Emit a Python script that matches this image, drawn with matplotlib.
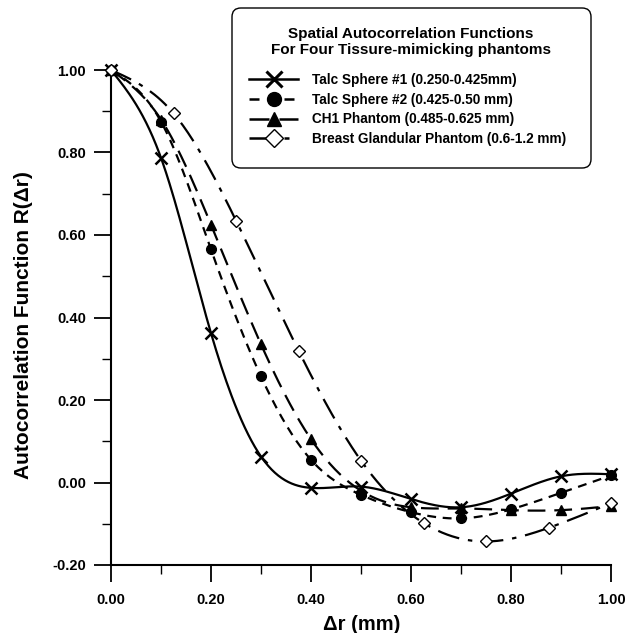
import numpy as np
import matplotlib
matplotlib.use("Agg")
import matplotlib.pyplot as plt
from matplotlib.patches import FancyBboxPatch
from matplotlib.ticker import MultipleLocator, FormatStrFormatter

plt.rcParams["font.family"] = ["Liberation Sans", "DejaVu Sans"]
plt.rcParams["font.weight"] = "bold"

# data
r_10 = [0.0, 0.1, 0.2, 0.3, 0.4, 0.5, 0.6, 0.7, 0.8, 0.9, 1.0]
talc1 = [1.0, 0.787, 0.362, 0.063, -0.013, -0.010, -0.040, -0.060, -0.027, 0.015, 0.020]
talc2 = [1.0, 0.875, 0.565, 0.257, 0.055, -0.030, -0.072, -0.087, -0.065, -0.025, 0.017]
ch1 = [1.0, 0.880, 0.625, 0.335, 0.105, -0.020, -0.060, -0.063, -0.067, -0.067, -0.057]
r_8 = [0.0, 0.125, 0.25, 0.375, 0.5, 0.625, 0.75, 0.875, 1.0]
breast = [1.0, 0.895, 0.635, 0.320, 0.053, -0.098, -0.143, -0.110, -0.050]

labels = ["Talc Sphere #1 (0.250-0.425mm)",
          "Talc Sphere #2 (0.425-0.50 mm)",
          "CH1 Phantom (0.485-0.625 mm)",
          "Breast Glandular Phantom (0.6-1.2 mm)"]
title = "Spatial Autocorrelation Functions\nFor Four Tissure-mimicking phantoms"


def spline(x, y, n=300):
    # natural cubic spline, only used to draw a smooth curve through the points
    x = np.asarray(x, float)
    y = np.asarray(y, float)
    k = len(x)
    h = np.diff(x)
    A = np.zeros((k, k))
    b = np.zeros(k)
    A[0, 0] = A[-1, -1] = 1
    for i in range(1, k - 1):
        A[i, i - 1] = h[i - 1]
        A[i, i] = 2 * (h[i - 1] + h[i])
        A[i, i + 1] = h[i]
        b[i] = 3 * ((y[i + 1] - y[i]) / h[i] - (y[i] - y[i - 1]) / h[i - 1])
    c = np.linalg.solve(A, b)
    xs = np.linspace(x[0], x[-1], n)
    idx = np.clip(np.searchsorted(x, xs) - 1, 0, k - 2)
    dx = xs - x[idx]
    bb = (y[idx + 1] - y[idx]) / h[idx] - h[idx] * (2 * c[idx] + c[idx + 1]) / 3
    d = (c[idx + 1] - c[idx]) / (3 * h[idx])
    return xs, y[idx] + bb * dx + c[idx] * dx ** 2 + d * dx ** 3


W, H = 632, 633
fig = plt.figure(figsize=(W / 100, H / 100), dpi=100)
ax = fig.add_axes([111 / W, 1 - 565 / H, 500 / W, 495 / H])

series = [
    (r_10, talc1, "-", "x", "black", 8),
    (r_10, talc2, (0, (4, 3)), "o", "black", 7),
    (r_10, ch1, (0, (8, 4)), "^", "black", 7),
    (r_8, breast, (0, (10, 4, 2, 4)), "D", "white", 6),
]

handles = []
for (x, y, ls, mk, fc, ms), lab in zip(series, labels):
    xs, ys = spline(x, y)
    ax.plot(xs, ys, color="black", lw=1.6, linestyle=ls, clip_on=False)
    ax.plot(x, y, linestyle="none", marker=mk, ms=ms, mfc=fc, mec="black",
            mew=1.8 if mk == "x" else 1.0, clip_on=False, zorder=3)
    h, = ax.plot([], [], color="black", lw=1.8, linestyle=ls, marker=mk, ms=ms + 3,
                 mfc=fc, mec="black", mew=2.2 if mk == "x" else 1.0)
    handles.append(h)

ax.set_xlim(0, 1.0)
ax.set_ylim(-0.2, 1.0)
ax.xaxis.set_major_locator(MultipleLocator(0.2))
ax.xaxis.set_minor_locator(MultipleLocator(0.1))
ax.yaxis.set_major_locator(MultipleLocator(0.2))
ax.yaxis.set_minor_locator(MultipleLocator(0.1))
ax.xaxis.set_major_formatter(FormatStrFormatter("%.2f"))
ax.yaxis.set_major_formatter(FormatStrFormatter("%.2f"))
ax.tick_params(which="major", direction="out", length=12, width=1.3, labelsize=10.5)
ax.tick_params(axis="x", which="major", pad=8)
ax.tick_params(axis="y", which="major", pad=6)
ax.tick_params(which="minor", direction="out", length=6.5, width=1.0)
for t in ax.get_xticklabels() + ax.get_yticklabels():
    t.set_fontweight("bold")
for s in ["top", "right"]:
    ax.spines[s].set_visible(False)
for s in ["left", "bottom"]:
    ax.spines[s].set_linewidth(1.5)

fig.text(362 / W, 1 - 624 / H, "\u0394r (mm)", fontsize=14.5, fontweight="bold",
         ha="center", va="center")
fig.text(24 / W, 1 - 325 / H, "Autocorrelation Function R(\u0394r)", fontsize=15,
         fontweight="bold", rotation=90, ha="center", va="center")

# legend box, title and entries
box = FancyBboxPatch((232 / W, 1 - 168 / H), 359 / W, 160 / H,
                     boxstyle="round,pad=0,rounding_size=0.014",
                     transform=fig.transFigure, facecolor="white",
                     edgecolor="black", lw=1.0, zorder=5)
fig.patches.append(box)
fig.text(411 / W, 1 - 42 / H, title, fontsize=11, fontweight="bold",
         ha="center", va="center", multialignment="center", linespacing=1.2, zorder=6)
leg = fig.legend(handles, labels, loc="upper left",
                 bbox_to_anchor=(249 / W, 1 - 73 / H),
                 prop={"weight": "bold", "size": 9.8},
                 handlelength=3.6, handletextpad=1.0, labelspacing=0.42,
                 borderpad=0, borderaxespad=0, frameon=False)
leg.set_zorder(7)

fig.savefig("out.png", dpi=100)
